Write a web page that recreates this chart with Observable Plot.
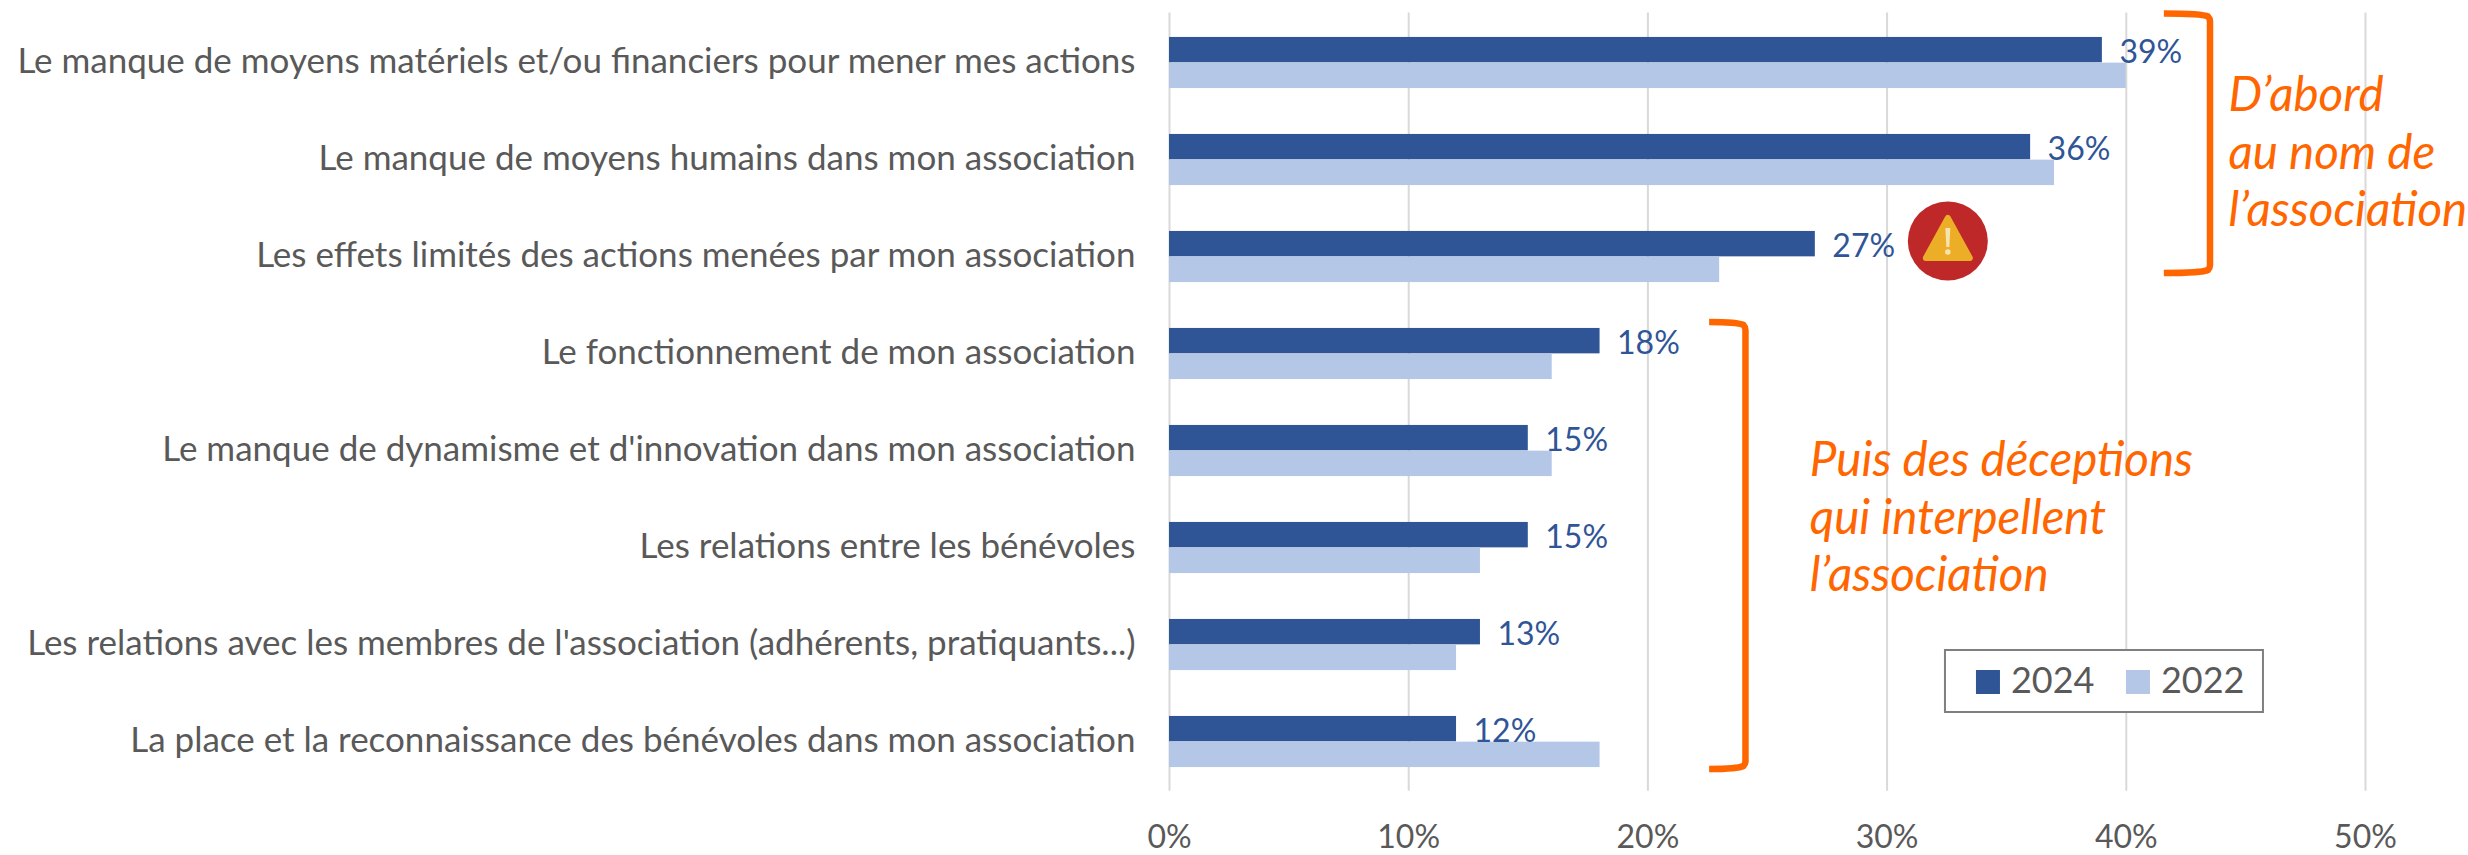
<!DOCTYPE html>
<html lang="fr"><head><meta charset="utf-8">
<script src="https://cdn.jsdelivr.net/npm/d3@7"></script>
<script src="https://cdn.jsdelivr.net/npm/@observablehq/plot@0.6"></script>
<style>html,body{margin:0;padding:0;background:#fff}svg{display:block}</style>
</head><body><div id="chart"></div>
<script>
const categories = [
  "Le manque de moyens matériels et/ou financiers pour mener mes actions",
  "Le manque de moyens humains dans mon association",
  "Les effets limités des actions menées par mon association",
  "Le fonctionnement de mon association",
  "Le manque de dynamisme et d'innovation dans mon association",
  "Les relations entre les bénévoles",
  "Les relations avec les membres de l'association (adhérents, pratiquants...)",
  "La place et la reconnaissance des bénévoles dans mon association"
];
const values2024 = [39, 36, 27, 18, 15, 15, 13, 12];
const values2022 = [40, 37, 23, 16, 16, 13, 12, 18];
const xTicks = [0, 10, 20, 30, 40, 50];
const years = ["2024", "2022"];
const DARK = "#2F5597", LIGHT = "#B4C7E7", ORANGE = "#FF6600", GREY = "#595959", GRID = "#D9D9D9";
const FONT = "Lato, 'Open Sans', sans-serif";

const rows24 = categories.map((c, i) => ({category: c, value: values2024[i]}));
const rows22 = categories.map((c, i) => ({category: c, value: values2022[i]}));

const W = 2468, H = 855;
const mTop = 12.4, mBottom = 64.2, mLeft = 1169, mRight = 103;
const step = (H - mTop - mBottom) / categories.length;
const barH = 25.7;

function svgEl(name, attrs, parent) {
  const e = document.createElementNS("http://www.w3.org/2000/svg", name);
  for (const k in attrs) e.setAttribute(k, attrs[k]);
  if (parent) parent.appendChild(e);
  return e;
}

// brackets, warning badge and legend, placed from the chart's scales
function annotations(index, scales) {
  const g = svgEl("g", {});
  const bracket = (xa, xb, top, bottom) => svgEl("path", {
    d: `M${xa},${top}Q${xb - 8},${top} ${xb - 2},${top + 3}Q${xb},${top + 5} ${xb},${top + 8}` +
       `L${xb},${bottom - 8}Q${xb},${bottom - 5} ${xb - 2},${bottom - 3}Q${xb - 8},${bottom} ${xa},${bottom}`,
    fill: "none", stroke: ORANGE, "stroke-width": 6.5
  }, g);
  const y0 = c => scales.y(categories[c]);
  bracket(scales.x(41.59), scales.x(43.52), y0(0) - 0.5, y0(2) + 65);
  bracket(scales.x(22.58), scales.x(24.1), y0(3) + 17, y0(7) + 76);

  // warning badge next to the third bar
  const bx = scales.x(32.56), by = y0(2) + 33;
  svgEl("ellipse", {cx: bx, cy: by, rx: 40, ry: 39.5, fill: "#BE2828"}, g);
  svgEl("path", {
    d: `M${bx},${by - 23}L${bx + 22},${by + 17}L${bx - 22},${by + 17}Z`,
    fill: "#EDAE27", stroke: "#EDAE27", "stroke-width": 6, "stroke-linejoin": "round"
  }, g);
  svgEl("path", {d: `M${bx - 2.5},${by - 13}h5l-1,19h-3Z`, fill: "#F6E3B0"}, g);
  svgEl("circle", {cx: bx, cy: by + 11, r: 2.8, fill: "#F6E3B0"}, g);

  // legend
  const lx = scales.x(32.44), ly = y0(6) + 54;
  svgEl("rect", {x: lx, y: ly, width: 318, height: 62, fill: "#fff", stroke: "#7F7F7F", "stroke-width": 2}, g);
  years.forEach((yr, i) => {
    const ox = lx + 31 + i * 150;
    svgEl("rect", {x: ox, y: ly + 20, width: 24, height: 24, fill: i ? LIGHT : DARK}, g);
    const t = svgEl("text", {x: ox + 35, y: ly + 43, fill: GREY, "font-size": 36, "font-family": FONT, "text-anchor": "start"}, g);
    t.textContent = yr;
  });
  return g;
}

const noteStyle = {textAnchor: "start", fontSize: 47.5, fontStyle: "italic", lineHeight: 1.22, fill: ORANGE};

const plot = Plot.plot({
  width: W, height: H,
  marginTop: mTop, marginBottom: mBottom, marginLeft: mLeft, marginRight: mRight,
  style: {fontFamily: FONT, background: "#fff"},
  x: {domain: [0, 50]},
  y: {domain: categories, padding: 0, label: null},
  marks: [
    Plot.gridX(xTicks, {stroke: GRID, strokeOpacity: 1, strokeWidth: 2}),
    Plot.barX(rows24, {x: "value", y: "category", fill: DARK, insetTop: step / 2 - barH, insetBottom: step / 2}),
    Plot.barX(rows22, {x: "value", y: "category", fill: LIGHT, insetTop: step / 2, insetBottom: step / 2 - barH}),
    Plot.text(rows24, {
      x: "value", y: "category", text: d => d.value + "%", textAnchor: "start",
      dx: 17, dy: -10.5, fill: DARK, fontSize: 32
    }),
    Plot.axisY({tickSize: 0, tickPadding: 34, fontSize: 35, label: null, fill: GREY, dy: -1.5}),
    Plot.axisX(xTicks, {tickSize: 0, tickPadding: 33.5, fontSize: 32, label: null, fill: GREY, tickFormat: d => d + "%"}),
    Plot.text(["D’abord\nau nom de\nl’association"], {
      ...noteStyle, x: 44.27, y: () => categories[1], dy: -10
    }),
    Plot.text(["Puis des déceptions\nqui interpellent\nl’association"], {
      ...noteStyle, x: 26.77, y: () => categories[4], dy: 64
    }),
    annotations
  ]
});
document.getElementById("chart").appendChild(plot);
</script></body></html>
